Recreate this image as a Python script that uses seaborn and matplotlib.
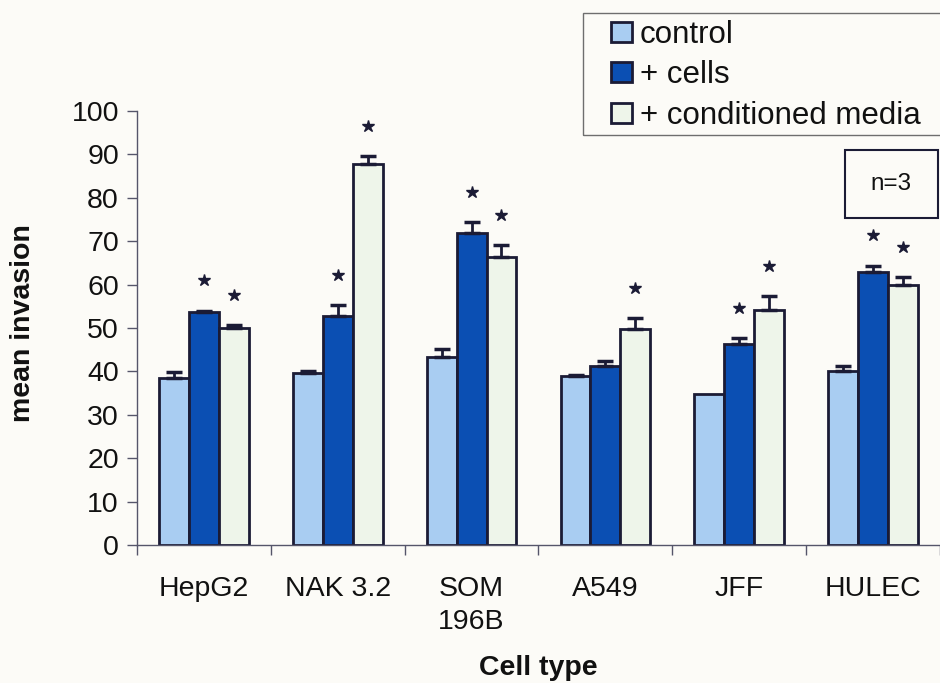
import matplotlib
matplotlib.use("Agg")
import matplotlib.pyplot as plt
from matplotlib.patches import Rectangle
import seaborn as sns
import pandas as pd
import numpy as np

# Cell types and mean invasion per condition (with SEM)
cell_types = ["HepG2", "NAK 3.2", "SOM\n196B", "A549", "JFF", "HULEC"]
conditions = ["control", "+ cells", "+ conditioned media"]

control = [38.4, 39.7, 43.4, 39.0, 34.9, 40.1]
control_err = [1.4, 0.5, 1.7, 0.2, 0.0, 1.2]
plus_cells = [53.8, 52.8, 71.8, 41.3, 46.3, 62.8]
plus_cells_err = [0.2, 2.5, 2.6, 1.1, 1.4, 1.6]
cond_media = [50.0, 87.9, 66.4, 49.8, 54.1, 60.0]
cond_media_err = [0.6, 1.7, 2.7, 2.4, 3.3, 1.7]

# significance versus control
sig_cells = [True, True, True, False, True, True]
sig_media = [True, True, True, True, True, True]

palette = ["#a9cdf2", "#0b4fb3", "#eef5ea"]
ink = "#1b1b35"
axis_col = "#55556a"
bg = "#fcfbf7"

df = pd.DataFrame({
    "cell": cell_types * 3,
    "condition": [c for c in conditions for _ in cell_types],
    "value": control + plus_cells + cond_media,
})

sns.set_style("white")
plt.rcParams["font.family"] = ["Liberation Sans", "DejaVu Sans"]
plt.rcParams["text.color"] = "#111111"

fig = plt.figure(figsize=(9.4, 6.83), dpi=100, facecolor=bg)
ax = fig.add_axes([137 / 940, 138 / 683, 803 / 940, 434 / 683])
ax.set_facecolor(bg)

sns.barplot(data=df, x="cell", y="value", hue="condition", order=cell_types,
            hue_order=conditions, palette=palette, width=0.67,
            edgecolor=ink, linewidth=2, errorbar=None, ax=ax, legend=True,
            saturation=1)

errs = [control_err, plus_cells_err, cond_media_err]
vals = [control, plus_cells, cond_media]
sigs = [[False] * 6, sig_cells, sig_media]

# bar rectangles sorted left to right: group i, condition k
rects = [p for p in ax.patches
         if isinstance(p, Rectangle) and p.get_height() > 0 and p.get_width() < 0.5]
rects.sort(key=lambda r: r.get_x())
for idx, bar in enumerate(rects):
    i, k = divmod(idx, 3)
    xc = bar.get_x() + bar.get_width() / 2
    v = vals[k][i]
    e = errs[k][i]
    if e > 0:
        ax.errorbar(xc, v, yerr=[[0], [e]], fmt="none", ecolor=ink,
                    elinewidth=2, capsize=5.5, capthick=2.5, zorder=1)
    if sigs[k][i]:
        ax.plot(xc, v + e + 7.0, marker="*", markersize=9, color=ink,
                linestyle="none")

ax.set_ylim(0, 100)
ax.set_xlim(-0.5, 5.5)
ax.set_yticks(np.arange(0, 101, 10))
ax.tick_params(axis="y", which="major", direction="out", length=7, width=1,
               color=axis_col, labelsize=20.5, pad=6, left=True,
               labelcolor="#111111")
ax.set_xticks(np.arange(len(cell_types)))
ax.set_xticklabels(cell_types, fontsize=20.5, linespacing=1.35, va="top",
                   color="#111111")
ax.set_xticks(np.arange(-0.5, 6.0, 1.0), minor=True)
ax.tick_params(axis="x", which="major", length=0, pad=22)
ax.tick_params(axis="x", which="minor", direction="out", length=7, width=1,
               color=axis_col, bottom=True)

for side in ["top", "right"]:
    ax.spines[side].set_visible(False)
for side in ["left", "bottom"]:
    ax.spines[side].set_color(axis_col)
    ax.spines[side].set_linewidth(1)

ax.set_xlabel("")
ax.set_ylabel("")
fig.text(538 / 940, 1 - 668 / 683, "Cell type", ha="center", va="center",
         fontsize=20.5, fontweight="bold")
fig.text(23 / 940, 1 - 323 / 683, "mean invasion", ha="center", va="center",
         rotation=90, fontsize=20.5, fontweight="bold")

handles, labels = ax.get_legend_handles_labels()
ax.get_legend().remove()
leg = fig.legend(handles, labels, loc="upper left",
                 bbox_to_anchor=(611 / 940, 1 - 20 / 683), fontsize=22.5,
                 frameon=False, handlelength=0.68, handleheight=0.6,
                 handletextpad=0.25, labelspacing=0.33, borderpad=0,
                 borderaxespad=0)
for h in leg.legend_handles:
    h.set_edgecolor(ink)
    h.set_linewidth(2)

# legend frame, open past the right edge of the figure
fig.add_artist(Rectangle((583 / 940, 1 - 135 / 683), 380 / 940, 122 / 683,
                         transform=fig.transFigure, fill=False,
                         edgecolor="#6e6e6e", linewidth=1))

fig.add_artist(Rectangle((845 / 940, 1 - 218 / 683), 93 / 940, 68 / 683,
                         transform=fig.transFigure, fill=False,
                         edgecolor=ink, linewidth=1.5))
fig.text(891 / 940, 1 - 184 / 683, "n=3", ha="center", va="center",
         fontsize=17.5, color="#111111")

fig.savefig("out.png", dpi=100, facecolor=bg)
